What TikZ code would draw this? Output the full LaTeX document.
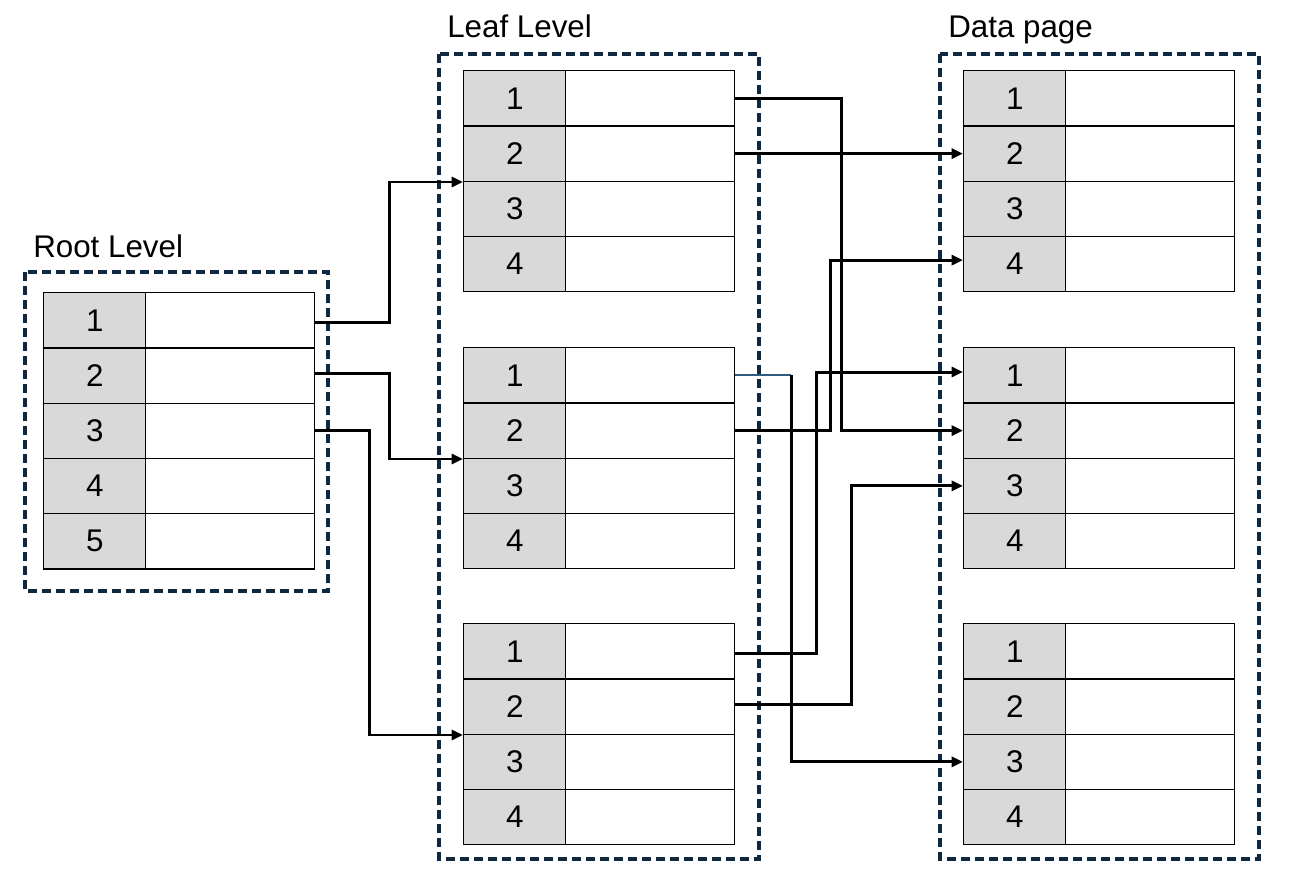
\documentclass[tikz,border=0pt]{standalone}
\usepackage{fontspec}
\setmainfont{Liberation Sans}
\usetikzlibrary{arrows.meta}
\definecolor{navy}{HTML}{0E2841}
\definecolor{cellgray}{HTML}{D9D9D9}
\definecolor{linkblue}{HTML}{2E5C80}
\begin{document}
\begin{tikzpicture}[x=0.75pt,y=-0.75pt,
  keycell/.style={draw=black, fill=cellgray, line width=1.1pt, minimum width=76.5pt, minimum height=41.44pt, inner sep=0pt, anchor=north west, font=\fontsize{23.5}{27}\selectfont},
  valcell/.style={draw=black, fill=white, line width=1.1pt, minimum width=126.75pt, minimum height=41.44pt, inner sep=0pt, anchor=north west},
  grp/.style={draw=navy, line width=2.6pt, dash pattern=on 7pt off 3.5pt},
  link/.style={draw=black, line width=2.2pt, -{Triangle[length=8.5pt,width=7.5pt]}},
  lbl/.style={anchor=base west, inner sep=0pt, font=\fontsize{23.5}{27}\selectfont}]
\useasboundingbox (0,0) rectangle (1298,882);
% group boxes
\draw[grp] (25,272) rectangle (328,591);
\draw[grp] (439,54) rectangle (759,859);
\draw[grp] (940,54) rectangle (1259,859);
% labels
\node[lbl] (rootlbl) at (33,257) {Root Level};
\node[lbl] (leaflbl) at (447,37) {Leaf Level};
\node[lbl] (datalbl) at (948,37) {Data page};
% root table
\foreach \i in {1,...,5}{
  \node[keycell] (rk\i) at (43,{292+55.25*(\i-1)}) {\i};
  \node[valcell] (rv\i) at (145,{292+55.25*(\i-1)}) {};
}
% leaf and data tables
\foreach \t/\y in {a/70,b/347,c/623}{
  \foreach \i in {1,...,4}{
    \node[keycell] (l\t k\i) at (463,{\y+55.25*(\i-1)}) {\i};
    \node[valcell] (l\t v\i) at (565,{\y+55.25*(\i-1)}) {};
    \node[keycell] (d\t k\i) at (963,{\y+55.25*(\i-1)}) {\i};
    \node[valcell] (d\t v\i) at (1065,{\y+55.25*(\i-1)}) {};
  }
}
% root to leaf
\draw[link] ([yshift=-1.8pt]rv1.east) -- ++(74,0) |- (lak2.south west);
\draw[link] ([yshift=1.8pt]rv2.east) -- ++(74,0) |- (lbk2.south west);
\draw[link] (rv3.east) -- ++(54,0) |- (lck2.south west);
% leaf to data
\draw[link] (lav1.east) -- ++(106,0) |- (dbk2.west);
\draw[link] (lav2.east) -- (dak2.west);
\draw[linkblue, line width=1.6pt] (lbv1.east) -- ++(56,0) coordinate (bb);
\draw[link] (bb) |- (dck3.west);
\draw[link] (lbv2.east) -- ++(95,0) |- ([yshift=3pt]dak4.west);
\draw[link] ([yshift=-1.8pt]lcv1.east) -- ++(81,0) |- ([yshift=2.5pt]dbk1.west);
\draw[link] ([yshift=1.4pt]lcv2.east) -- ++(116,0) |- (dbk3.west);
\end{tikzpicture}
\end{document}
